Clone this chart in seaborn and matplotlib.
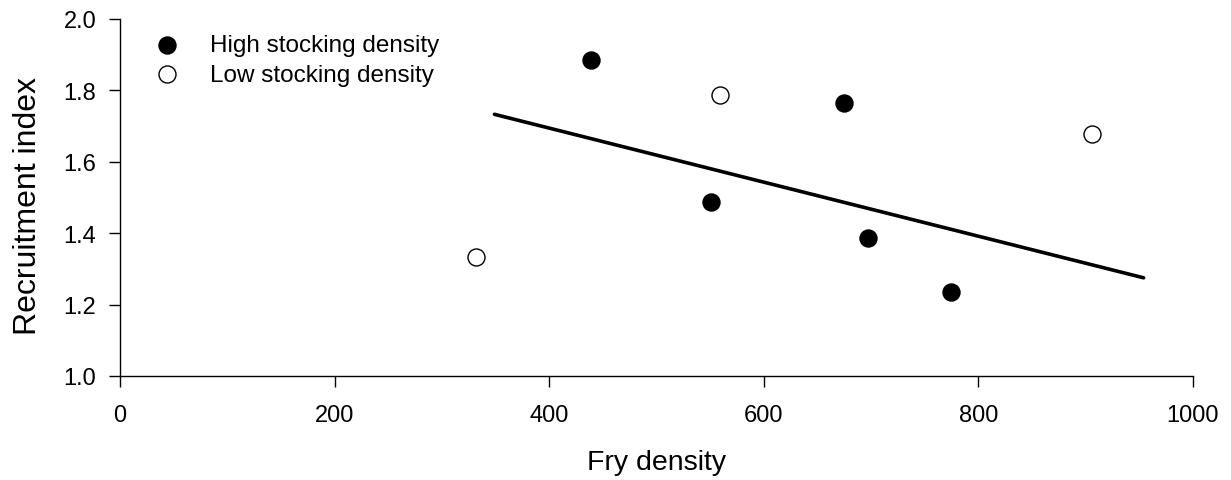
import matplotlib
matplotlib.use("Agg")
import matplotlib.pyplot as plt
import seaborn as sns
import pandas as pd

# Data
high_x = [439, 551, 675, 697, 774]
high_y = [1.884, 1.486, 1.764, 1.387, 1.234]
low_x = [332, 559, 906]
low_y = [1.334, 1.787, 1.677]
fit_x = [349, 954]
fit_y = [1.733, 1.275]

x_ticks = [0, 200, 400, 600, 800, 1000]
y_ticks = [1.0, 1.2, 1.4, 1.6, 1.8, 2.0]

sns.set_style("ticks")
plt.rcParams['font.family'] = ['Liberation Sans', 'DejaVu Sans']

fig = plt.figure(figsize=(12.31, 4.81), dpi=100)
ax = fig.add_axes([120/1231, 1-377/481, (1193-120)/1231, (377-20)/481])

high = pd.DataFrame({"x": high_x, "y": high_y})
low = pd.DataFrame({"x": low_x, "y": low_y})
fit = pd.DataFrame({"x": fit_x, "y": fit_y})

sns.lineplot(data=fit, x="x", y="y", color="black", lw=2.6, ax=ax, legend=False)
sns.scatterplot(data=high, x="x", y="y", ax=ax, s=150, color="black",
                edgecolor="black", linewidth=1, label="High stocking density", zorder=3)
sns.scatterplot(data=low, x="x", y="y", ax=ax, s=150, facecolor="white",
                edgecolor="black", linewidth=1, label="Low stocking density", zorder=3)

ax.set_xlim(0, 1000)
ax.set_ylim(1.0, 2.0)
ax.set_xticks(x_ticks)
ax.set_yticks(y_ticks)
ax.set_xticklabels([str(v) for v in x_ticks])
ax.set_yticklabels([f"{v:.1f}" for v in y_ticks])
ax.tick_params(axis="both", direction="out", length=8, width=1, labelsize=17, color="black", labelcolor="black")
ax.tick_params(axis="x", pad=12)
ax.tick_params(axis="y", pad=9)
for s in ["left", "bottom"]:
    ax.spines[s].set_linewidth(1)
    ax.spines[s].set_color("black")
sns.despine(ax=ax)

ax.set_xlabel("Fry density", fontsize=20.5, labelpad=17, color="black")
ax.set_ylabel("Recruitment index", fontsize=23, labelpad=14.5, color="black")
ax.yaxis.label.set_y(0.48)

leg = ax.legend(loc="upper left", bbox_to_anchor=(0.0326, 0.958), frameon=False, fontsize=17.5,
                handlelength=1.0, handletextpad=1.27, labelspacing=0.32, borderpad=0, borderaxespad=0)
for t in leg.get_texts():
    t.set_color("black")

fig.savefig("out.png", dpi=100)
